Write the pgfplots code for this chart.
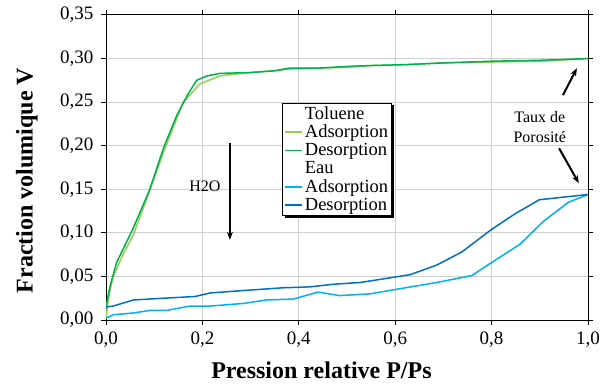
\documentclass[border=0pt]{standalone}
\usepackage{pgfplots}
\pgfplotsset{compat=1.18}
\usepackage{fontspec}
\setmainfont{Liberation Serif}
\usetikzlibrary{arrows.meta}
\definecolor{tolads}{HTML}{92D050}
\definecolor{toldes}{HTML}{00B050}
\definecolor{eauads}{HTML}{00B0F0}
\definecolor{eaudes}{HTML}{0070C0}
\definecolor{gridc}{HTML}{D0D0D0}
\begin{document}
\begin{tikzpicture}
\begin{axis}[
  at={(106bp,68bp)}, anchor=south west,
  scale only axis, width=482bp, height=305bp,
  xmin=0, xmax=1, ymin=0, ymax=0.35,
  xtick={0,0.2,0.4,0.6,0.8,1.0},
  ytick={0,0.05,0.10,0.15,0.20,0.25,0.30,0.35},
  grid=major, major grid style={gridc, line width=1bp},
  axis line style={black, line width=1bp},
  tick style={black, line width=1bp},
  tick align=outside, major tick length=5bp,
  xticklabel style={/pgf/number format/fixed, /pgf/number format/fixed zerofill, /pgf/number format/precision=1, /pgf/number format/use comma, /pgf/number format/assume math mode=true, yshift=-3bp},
  yticklabel style={/pgf/number format/fixed, /pgf/number format/fixed zerofill, /pgf/number format/precision=2, /pgf/number format/use comma, /pgf/number format/assume math mode=true, xshift=-4bp},
  ticklabel style={font=\fontsize{19bp}{22bp}\selectfont},
  xlabel={\textbf{Pression relative P/Ps}},
  ylabel={\textbf{Fraction volumique V}},
  label style={font=\fontsize{24bp}{28bp}\selectfont},
  xlabel style={at={(axis description cs:0.447,-0.164)}, anchor=center},
  ylabel style={at={(axis description cs:-0.164,0.457)}, anchor=center},
  legend style={name=leg, at={(axis description cs:0.367,0.711)}, anchor=north west,
    draw=none, fill=white,
    font=\fontsize{18.5bp}{18.5bp}\selectfont, inner xsep=1bp, inner ysep=1bp,
    row sep=0.3bp, cells={anchor=west}},
  legend image post style={line width=1.8bp},
  legend cell align=left,
]
\addlegendimage{draw opacity=0}
\addlegendentry{Toluene}
\addplot[tolads, line width=1.5bp] coordinates {
(0,0.002) (0.005,0.025) (0.015,0.050) (0.036,0.076) (0.057,0.098) (0.077,0.128) (0.119,0.192) (0.160,0.250) (0.195,0.271) (0.236,0.280) (0.264,0.282) (0.3,0.284) (0.35,0.286) (0.38,0.288) (0.44,0.289) (0.5,0.290) (0.55,0.292) (0.62,0.293) (0.7,0.295) (0.8,0.296) (0.9,0.297) (1.0,0.300)
};
\addlegendentry{Adsorption}
\addplot[toldes, line width=1.5bp] coordinates {
(0,0.015) (0.008,0.038) (0.022,0.066) (0.057,0.106) (0.091,0.150) (0.119,0.197) (0.147,0.235) (0.171,0.260) (0.188,0.275) (0.209,0.280) (0.236,0.283) (0.3,0.284) (0.35,0.286) (0.38,0.289) (0.44,0.289) (0.5,0.291) (0.55,0.292) (0.62,0.293) (0.7,0.295) (0.8,0.297) (0.9,0.298) (1.0,0.300)
};
\addlegendentry{Desorption}
\addlegendimage{draw opacity=0}
\addlegendentry{Eau}
\addplot[eauads, line width=1.5bp] coordinates {
(0,0.002) (0.015,0.006) (0.056,0.008) (0.091,0.011) (0.126,0.011) (0.174,0.016) (0.216,0.016) (0.285,0.019) (0.333,0.023) (0.388,0.024) (0.44,0.032) (0.485,0.028) (0.548,0.030) (0.6,0.035) (0.686,0.043) (0.759,0.051) (0.8,0.066) (0.859,0.087) (0.907,0.113) (0.959,0.135) (1.0,0.144)
};
\addlegendentry{Adsorption}
\addplot[eaudes, line width=1.5bp] coordinates {
(0,0.015) (0.015,0.016) (0.057,0.023) (0.12,0.025) (0.185,0.027) (0.216,0.031) (0.264,0.033) (0.368,0.037) (0.423,0.038) (0.471,0.041) (0.527,0.043) (0.631,0.052) (0.686,0.063) (0.738,0.078) (0.8,0.104) (0.849,0.122) (0.899,0.138) (1.0,0.144)
};
\addlegendentry{Desorption}
\node[font=\fontsize{16bp}{18bp}\selectfont] at (axis cs:0.205,0.153) {H2O};
\draw[-{Stealth[length=8bp,width=6bp]}, line width=2.5bp] (axis cs:0.257,0.203) -- (axis cs:0.257,0.092);
\node[font=\fontsize{16bp}{20bp}\selectfont, align=center] at (axis cs:0.900,0.222) {Taux de\\Porosité};
\draw[-{Stealth[length=8bp,width=6bp]}, line width=2bp] (axis cs:0.948,0.258) -- (axis cs:0.977,0.289);
\draw[-{Stealth[length=8bp,width=6bp]}, line width=2bp] (axis cs:0.940,0.197) -- (axis cs:0.981,0.157);
\end{axis}
\draw[line width=1bp] (leg.south west) rectangle (leg.north east);
\draw[line width=2.5bp, line cap=rect] ([xshift=1.75bp,yshift=-3bp]leg.north east) -- ([xshift=1.75bp,yshift=-1.75bp]leg.south east) -- ([xshift=3bp,yshift=-1.75bp]leg.south west);
\pgfresetboundingbox
\path (0,0) rectangle (609bp,388bp);
\end{tikzpicture}
\end{document}
